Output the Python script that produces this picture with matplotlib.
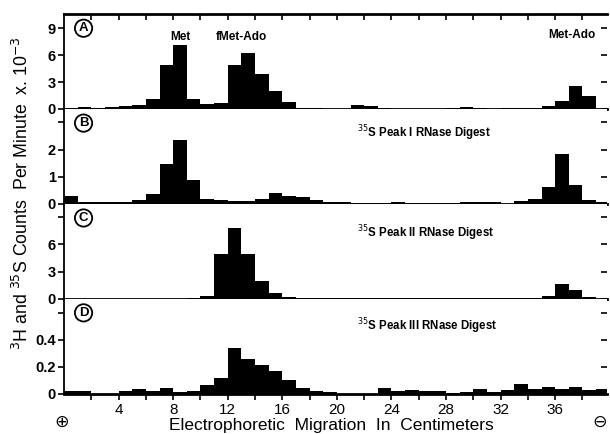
import matplotlib
matplotlib.use("Agg")
import matplotlib.pyplot as plt
import numpy as np

plt.rcParams['font.family'] = ['Liberation Sans', 'DejaVu Sans']

# bin left edges (cm), 1 cm wide bins
bin_edges = list(range(0, 40))

panel_a = [0.1, 0.2, 0.1, 0.2, 0.3, 0.4, 1.15, 4.9, 7.1, 1.05,
           0.6, 0.7, 4.9, 6.2, 3.95, 1.95, 0.75, 0.05, 0.05, 0.0,
           0.0, 0.4, 0.3, 0.05, 0.0, 0.0, 0.0, 0.0, 0.05, 0.2,
           0.05, 0.0, 0.05, 0.05, 0.05, 0.35, 0.9, 2.5, 1.45, 0.0]
panel_b = [0.28, 0.05, 0.05, 0.05, 0.07, 0.12, 0.35, 1.45, 2.35, 0.87,
           0.18, 0.13, 0.1, 0.1, 0.16, 0.38, 0.3, 0.25, 0.12, 0.07,
           0.07, 0.03, 0.04, 0.03, 0.05, 0.04, 0.03, 0.02, 0.02, 0.06,
           0.06, 0.06, 0.0, 0.1, 0.16, 0.6, 1.84, 0.69, 0.15, 0.06]
panel_c = [0.0, 0.0, 0.0, 0.0, 0.0, 0.0, 0.0, 0.0, 0.0, 0.12,
           0.3, 4.9, 7.8, 4.9, 1.9, 0.65, 0.2, 0.05, 0.02, 0.02,
           0.02, 0.02, 0.02, 0.02, 0.02, 0.02, 0.02, 0.02, 0.02, 0.02,
           0.02, 0.02, 0.02, 0.05, 0.1, 0.3, 1.6, 0.95, 0.2, 0.0]
panel_d = [0.02, 0.015, 0.0, 0.0, 0.02, 0.03, 0.02, 0.04, 0.01, 0.02,
           0.06, 0.115, 0.34, 0.26, 0.215, 0.165, 0.1, 0.04, 0.02, 0.01,
           0.0, 0.0, 0.0, 0.04, 0.02, 0.025, 0.02, 0.02, 0.005, 0.01,
           0.03, 0.01, 0.025, 0.07, 0.03, 0.05, 0.035, 0.045, 0.025, 0.03]

panel_letters = ['A', 'B', 'C', 'D']
ytick_vals = [[0, 3, 6, 9], [0, 1, 2, 3], [0, 3, 6, 9], [0, 0.2, 0.4, 0.6]]
ytick_labels = [['0', '3', '6', '9'], ['0', '1', '2', ''], ['0', '3', '6', ''],
                ['0', '0.2', '0.4', '']]
ylims = [10.6, 3.5, 10.5, 0.705]
xtick_labels = [4, 8, 12, 16, 20, 24, 28, 32, 36]

fig = plt.figure(figsize=(6.1, 4.34), dpi=100)
L, R = 64 / 610, 607 / 610
B, T = 40.5 / 434, 420 / 434
gs = fig.add_gridspec(4, 1, left=L, right=R, bottom=B, top=T, hspace=0)
data = [panel_a, panel_b, panel_c, panel_d]
axes = []
for i in range(4):
    ax = fig.add_subplot(gs[i])
    axes.append(ax)
    ax.bar(bin_edges, data[i], width=1.0, align='edge', color='black', linewidth=0)
    ax.set_xlim(0, 39.8)
    ax.set_ylim(0, ylims[i])
    ax.spines['right'].set_visible(False)
    ax.spines['top'].set_visible(i == 0)
    ax.spines['top'].set_linewidth(2.0)
    ax.spines['bottom'].set_linewidth(2.0)
    ax.spines['left'].set_linewidth(1.3)
    ax.set_yticks(ytick_vals[i])
    ax.set_yticklabels(ytick_labels[i], fontsize=10.5, fontweight='bold')
    ax.tick_params(axis='y', left=True, right=True, direction='out', length=4,
                   width=1.2, pad=2)
    for t in ax.yaxis.get_ticklines()[1::2]:
        t.set_marker(0)  # right ticks pointing inward
    ax.text(0.036, 0.85, panel_letters[i], transform=ax.transAxes, fontsize=9.5,
            fontweight='bold', ha='center', va='center',
            bbox=dict(boxstyle='circle,pad=0.2', fc='white', ec='black', lw=1.3))
    if i == 0:
        ax.set_xticks(np.arange(2, 40, 2))
        ax.tick_params(axis='x', bottom=False, top=True, labelbottom=False,
                       direction='in', length=4, width=1.2)
    elif i == 3:
        ax.set_xticks(np.arange(2, 40, 2))
        ax.set_xticklabels([str(v) if v in xtick_labels else '' for v in range(2, 40, 2)],
                           fontsize=11)
        ax.tick_params(axis='x', direction='out', length=4, width=1.2, pad=3)
    else:
        ax.set_xticks([])

axes[0].text(8.5, 8.0, 'Met', fontsize=8.5, fontweight='bold', ha='center', va='center')
axes[0].text(13.0, 8.0, 'fMet-Ado', fontsize=8.5, fontweight='bold', ha='center', va='center')
axes[0].text(37.2, 8.2, 'Met-Ado', fontsize=8.5, fontweight='bold', ha='center', va='center')
axes[1].text(21.5, 2.6, '$^{35}$S Peak I RNase Digest', fontsize=8.3, fontweight='bold',
             ha='left', va='center')
axes[2].text(21.5, 7.25, '$^{35}$S Peak II RNase Digest', fontsize=8.3, fontweight='bold',
             ha='left', va='center')
axes[3].text(21.5, 0.5, '$^{35}$S Peak III RNase Digest', fontsize=8.3, fontweight='bold',
             ha='left', va='center')

fig.text(0.036, 0.555, '$^3$H and $^{35}$S Counts  Per Minute  x. 10$^{-3}$',
         rotation=90, fontsize=12.8, ha='center', va='center')
fig.text(0.543, 0.019, 'Electrophoretic  Migration  In  Centimeters', fontsize=12.5,
         ha='center', va='center')
fig.text(62 / 610, 0.028, '\u2295', fontsize=12.5, ha='center', va='center',
         family=['DejaVu Sans'])
fig.text(600 / 610, 0.028, '\u2296', fontsize=12.5, ha='center', va='center',
         family=['DejaVu Sans'])

fig.savefig('out.png', dpi=100)
